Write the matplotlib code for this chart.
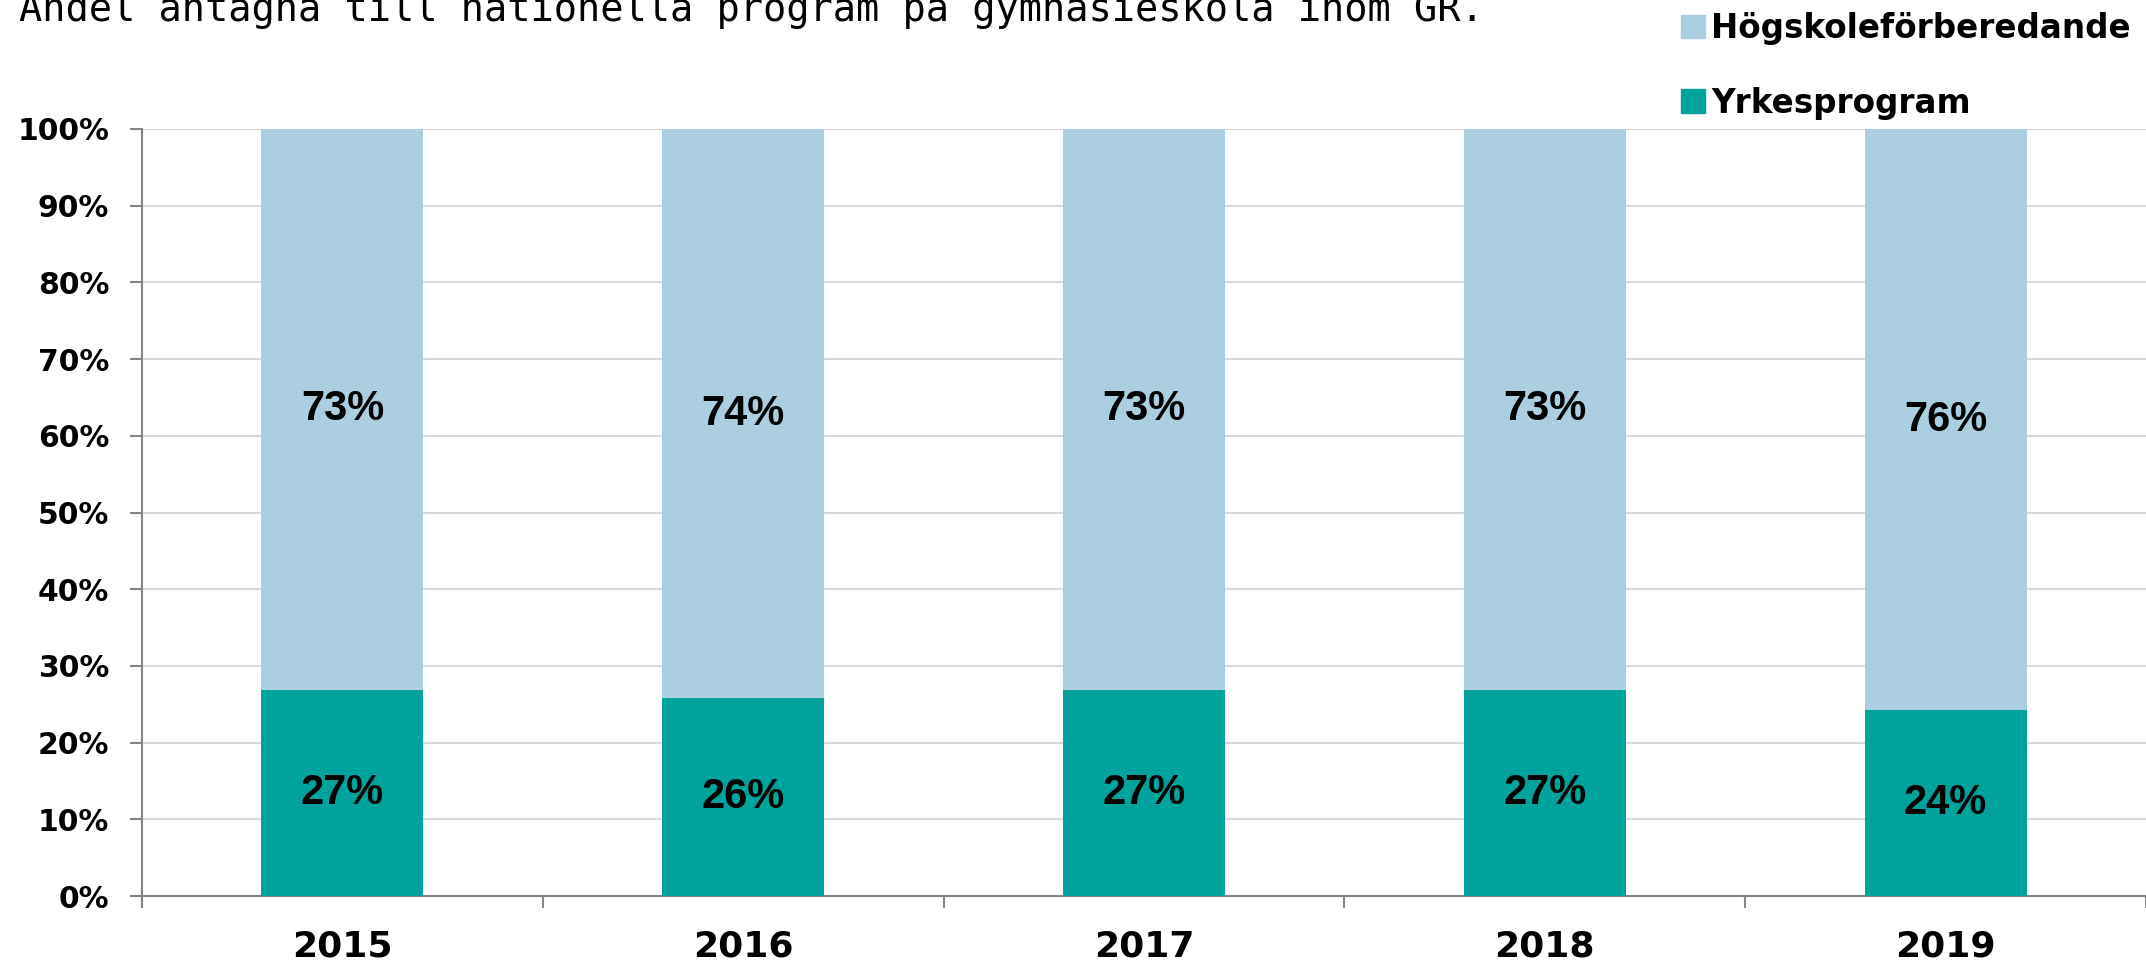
import matplotlib
matplotlib.use("Agg")
import numpy as np
import matplotlib.pyplot as plt
from matplotlib.patches import Patch

# ---------------- DATA ----------------
years = ["2015", "2016", "2017", "2018", "2019"]
yrkes = [26.9, 25.8, 26.9, 26.9, 24.2]          # Yrkesprogram (%)
hogskole = [73.1, 74.2, 73.1, 73.1, 75.8]       # Högskoleförberedande (%)
yrkes_labels = ["27%", "26%", "27%", "27%", "24%"]
hogskole_labels = ["73%", "74%", "73%", "73%", "76%"]
yticks = [0, 10, 20, 30, 40, 50, 60, 70, 80, 90, 100]

TITLE = "Andel antagna till nationella program på gymnasieskola inom GR."
C_YRKES = "#00A39B"
C_HOG = "#ABCFE1"
# --------------------------------------

W, H, DPI = 2146, 966, 100
fig = plt.figure(figsize=(W / DPI, H / DPI), dpi=DPI)
ax = fig.add_axes([142 / W, 1 - 896 / H, 1 - 142 / W, (896 - 129) / H])

x = np.arange(len(years))
bw = 0.404
b1 = ax.bar(x, yrkes, bw, color=C_YRKES, label="Yrkesprogram", zorder=3)
b2 = ax.bar(x, hogskole, bw, bottom=yrkes, color=C_HOG,
            label="Högskoleförberedande", zorder=3)

lab_font = dict(family=["Liberation Sans", "DejaVu Sans"], size=30, weight="bold")
ax.bar_label(b1, labels=yrkes_labels, label_type="center", **lab_font)
ax.bar_label(b2, labels=hogskole_labels, label_type="center", **lab_font)

ax.set_xlim(-0.5, len(years) - 0.5)
ax.set_ylim(0, 100)

ax.set_yticks(yticks)
ax.set_yticklabels([f"{v}%" for v in yticks], fontsize=21.5, fontweight="bold")
ax.tick_params(axis="y", length=8.5, width=1.5, color="#868686", pad=15)

ax.set_xticks(x)
ax.set_xticklabels(years, fontsize=26, fontweight="bold")
ax.set_xticks(np.arange(-0.5, len(years)), minor=True)
ax.tick_params(axis="x", which="major", length=0, pad=24)
ax.tick_params(axis="x", which="minor", length=8.5, width=1.5, color="#868686")

ax.yaxis.grid(True, color="#d9d9d9", linewidth=1.5, zorder=0)
ax.set_axisbelow(True)
for s in ["top", "right"]:
    ax.spines[s].set_visible(False)
for s in ["left", "bottom"]:
    ax.spines[s].set_color("#868686")
    ax.spines[s].set_linewidth(1.5)

# title sits partly above the top edge, as in the source image
fig.text(19 / W, 1 - 21 / H, TITLE, family="DejaVu Sans Mono", size=27.8,
         va="baseline", ha="left")

handles = [Patch(color=C_HOG), Patch(color=C_YRKES)]
fig.legend(handles, ["Högskoleförberedande", "Yrkesprogram"],
           loc="upper left", bbox_to_anchor=(1668 / W, 1 + 1 / H),
           prop=dict(size=23.5, weight="bold"), frameon=False,
           handlelength=0.72, handleheight=0.72,
           handletextpad=0.2, labelspacing=1.27, borderaxespad=0)

fig.savefig("out.png", dpi=DPI)
